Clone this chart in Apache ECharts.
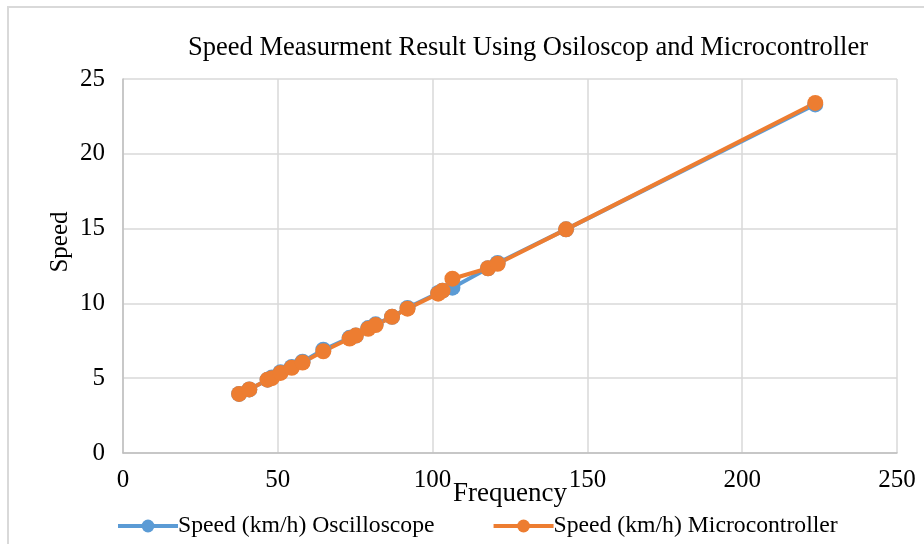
<!DOCTYPE html>
<html>
<head>
<meta charset="utf-8">
<script src="https://cdn.jsdelivr.net/npm/echarts@6/dist/echarts.min.js"></script>
<style>html,body{margin:0;padding:0;background:#fff}#c{width:924px;height:544px}</style>
</head>
<body>
<div id="c"></div>
<script>
const titleText = 'Speed Measurment Result Using Osiloscop and Microcontroller';
const xName = 'Frequency';
const yName = 'Speed';
const seriesNames = ['Speed (km/h) Oscilloscope', 'Speed (km/h) Microcontroller'];
const frequency = [37.5, 40.8, 46.7, 48.1, 50.9, 54.5, 58.0, 64.7, 73.2, 75.2, 79.2, 81.6, 86.9, 91.9, 101.8, 103.2, 106.4, 117.9, 121.0, 143.1, 223.6];
const speedOsc = [3.95, 4.25, 4.9, 5.05, 5.4, 5.75, 6.1, 6.9, 7.7, 7.85, 8.35, 8.6, 9.1, 9.7, 10.7, 10.85, 11.05, 12.35, 12.7, 14.95, 23.3];
const speedMcu = [3.95, 4.25, 4.9, 5.0, 5.35, 5.7, 6.05, 6.8, 7.65, 7.85, 8.3, 8.55, 9.1, 9.65, 10.65, 10.85, 11.65, 12.35, 12.65, 14.95, 23.4];
const xTicks = [0, 50, 100, 150, 200, 250];
const yTicks = [0, 5, 10, 15, 20, 25];

const font = '"Liberation Serif", "Times New Roman", serif';
const chart = echarts.init(document.getElementById('c'), null, {renderer: 'canvas'});
const pairs = (ys) => frequency.map((x, i) => [x, ys[i]]);
chart.setOption({
  animation: false,
  backgroundColor: '#fff',
  color: ['#5B9BD5', '#ED7D31'],
  graphic: [{
    type: 'rect', shape: {x: 8, y: 7, width: 940, height: 560},
    style: {fill: 'none', stroke: '#d9d9d9', lineWidth: 2}, z: -10
  }],
  title: {
    text: titleText, left: 183, top: 30,
    textStyle: {fontFamily: font, fontSize: 26.5, fontWeight: 'normal', color: '#000'}
  },
  grid: {left: 123, right: 27, top: 79, bottom: 91, containLabel: false},
  legend: {
    data: seriesNames, bottom: 1, left: 111,
    itemWidth: 60, itemHeight: 16, itemGap: 57,
    lineStyle: {width: 4},
    textStyle: {fontFamily: font, fontSize: 23.7, color: '#000', padding: [0, 0, 0, -5]}
  },
  xAxis: {
    type: 'value', min: xTicks[0], max: xTicks[xTicks.length - 1], interval: 50,
    name: xName, nameLocation: 'middle', nameGap: 27, nameMoveOverlap: false,
    nameTextStyle: {fontFamily: font, fontSize: 27, color: '#000'},
    axisLine: {show: true, lineStyle: {color: '#bfbfbf', width: 1.5}},
    axisTick: {show: false},
    axisLabel: {fontFamily: font, fontSize: 25, color: '#000', margin: 15},
    splitLine: {show: true, lineStyle: {color: '#d9d9d9', width: 1.5}}
  },
  yAxis: {
    type: 'value', min: yTicks[0], max: yTicks[yTicks.length - 1], interval: 5,
    name: yName, nameLocation: 'middle', nameGap: 50, nameRotate: 90, nameMoveOverlap: false,
    nameTextStyle: {fontFamily: font, fontSize: 25, color: '#000', padding: [0, 0, 0, 48]},
    axisLine: {show: true, lineStyle: {color: '#bfbfbf', width: 1.5}},
    axisTick: {show: false},
    axisLabel: {fontFamily: font, fontSize: 25, color: '#000', margin: 18},
    splitLine: {show: true, lineStyle: {color: '#d9d9d9', width: 1.5}}
  },
  series: [
    {name: seriesNames[0], type: 'line', data: pairs(speedOsc), symbol: 'circle', symbolSize: 16,
     lineStyle: {width: 4}, itemStyle: {color: '#5B9BD5'}},
    {name: seriesNames[1], type: 'line', data: pairs(speedMcu), symbol: 'circle', symbolSize: 16,
     lineStyle: {width: 4}, itemStyle: {color: '#ED7D31'}}
  ]
});
</script>
</body>
</html>
